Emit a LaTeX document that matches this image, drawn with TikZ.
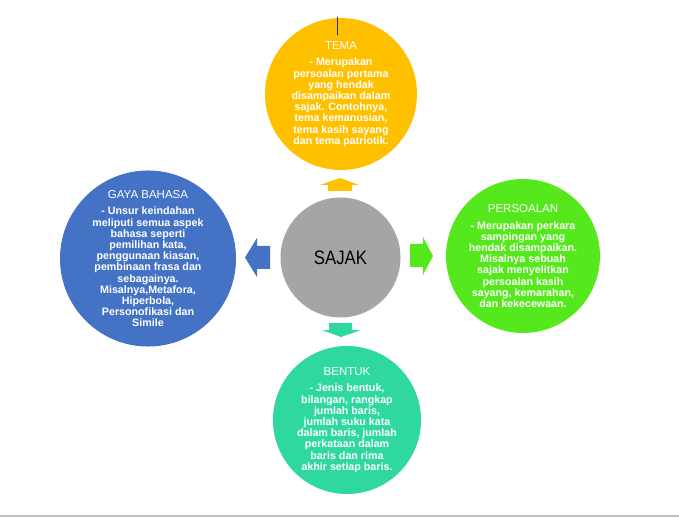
\documentclass[tikz,border=0pt]{standalone}
\usepackage{fontspec}
\usepackage{graphicx}
\setmainfont{Liberation Sans}
\definecolor{temacol}{HTML}{FFC000}
\definecolor{persoalancol}{HTML}{55E91D}
\definecolor{gayacol}{HTML}{4472C4}
\definecolor{bentukcol}{HTML}{2ED8A0}
\definecolor{sajakcol}{HTML}{A5A5A5}
\definecolor{tickcol}{HTML}{1F2F8F}
\tikzset{
  bubble/.style={circle, inner sep=0pt, align=center, text=white,
    font=\fontsize{10.7}{11.2}\selectfont\bfseries}
}
\newcommand{\bubblehead}[1]{{\fontsize{11.5}{12}\selectfont\mdseries #1}\\[5.5pt]}
\begin{document}
\begin{tikzpicture}[x=1pt, y=-1pt]
    \useasboundingbox (0,0) rectangle (679,518);
    % Centre
    \node[circle, fill=sajakcol, minimum size=120pt, inner sep=0pt,
      font=\fontsize{19.5}{22}\selectfont] (sajak) at (340.5,257.5) {\scalebox{0.86}[1]{SAJAK}};

    % Surrounding circles
    \node[bubble, fill=temacol, minimum size=152pt] (tema) at (341,94)
      {\bubblehead{TEMA}- Merupakan\\persoalan pertama\\yang hendak\\disampaikan dalam\\sajak. Contohnya,\\tema kemanusian,\\tema kasih sayang\\dan tema patriotik.};
    \node[bubble, fill=persoalancol, minimum size=154pt] (persoalan) at (523,256)
      {\bubblehead{PERSOALAN}- Merupakan perkara\\sampingan yang\\hendak disampaikan.\\Misalnya sebuah\\sajak menyelitkan\\persoalan kasih\\sayang, kemarahan,\\dan kekecewaan.};
    \node[bubble, fill=gayacol, minimum size=172pt] (gaya) at (148,258.5)
      {\bubblehead{GAYA BAHASA}- Unsur keindahan\\meliputi semua aspek\\bahasa seperti\\pemilihan kata,\\penggunaan kiasan,\\pembinaan frasa dan\\sebagainya.\\Misalnya,Metafora,\\Hiperbola,\\Personofikasi dan\\Simile};
    \node[bubble, fill=bentukcol, minimum size=148pt] (bentuk) at (347,420)
      {\bubblehead{BENTUK}- Jenis bentuk,\\bilangan, rangkap\\jumlah baris,\\jumlah suku kata\\dalam baris, jumlah\\perkataan dalam\\baris dan rima\\akhir setiap baris.};

    % Block arrows
    \fill[temacol] (328,191) -- (328,185) -- (320,185) -- (340,178) -- (359,185)
      -- (352,185) -- (352,191) -- cycle;
    \fill[persoalancol] (410,244) -- (423,244) -- (423,237) -- (433,256) -- (423,275)
      -- (423,267) -- (410,267) -- cycle;
    \fill[gayacol] (270,246) -- (257,246) -- (257,238) -- (245,257.5) -- (257,277)
      -- (257,269) -- (270,269) -- cycle;
    \fill[bentukcol] (329,323) -- (352,323) -- (352,330) -- (361,330) -- (341,337)
      -- (322,330) -- (329,330) -- cycle;

    % Marks
    \draw[tickcol, line width=0.8pt] (337,17) -- (337,35);
    \draw[black!25, line width=1.5pt] (0,516) -- (679,516);
\end{tikzpicture}
\end{document}
